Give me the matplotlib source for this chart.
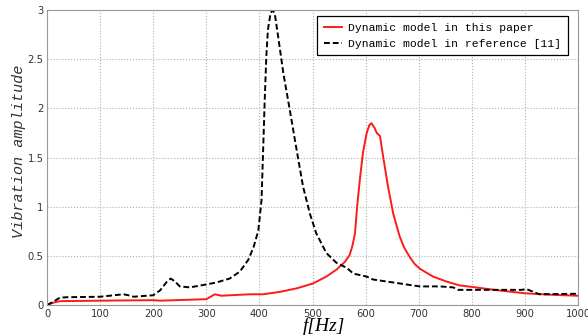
import matplotlib.pyplot as plt

# Frequency response of the proposed model
f_this = [0, 12, 24, 100, 200, 213, 300, 316, 328, 345, 383, 407, 439, 470,
          501, 526, 545, 561, 570, 575, 580, 584, 589, 595, 602, 607, 611,
          617, 621, 627, 633, 642, 652, 664, 673, 683, 692, 702, 727, 752,
          777, 800, 850, 900, 950, 1000]
amp_this = [0.0, 0.025, 0.04, 0.045, 0.05, 0.045, 0.06, 0.11, 0.095, 0.10,
            0.11, 0.11, 0.135, 0.17, 0.22, 0.29, 0.36, 0.44, 0.51, 0.60, 0.73,
            1.0, 1.27, 1.55, 1.75, 1.83, 1.85, 1.80, 1.75, 1.72, 1.51, 1.21,
            0.93, 0.70, 0.58, 0.49, 0.42, 0.37, 0.29, 0.24, 0.20, 0.185,
            0.15, 0.12, 0.105, 0.095]

# Frequency response of the model from reference [11]
f_ref = [0, 12, 24, 37, 100, 144, 153, 163, 200, 213, 226, 233, 241, 250,
         269, 300, 319, 344, 363, 379, 389, 398, 404, 407, 410, 413, 416,
         421, 425, 429, 435, 445, 457, 470, 482, 495, 507, 526, 545, 564,
         577, 602, 614, 652, 689, 702, 740, 765, 774, 850, 895, 902, 927,
         1000]
amp_ref = [0.0, 0.035, 0.075, 0.08, 0.085, 0.11, 0.10, 0.085, 0.10, 0.15,
           0.24, 0.27, 0.24, 0.19, 0.18, 0.21, 0.23, 0.27, 0.34, 0.46, 0.59,
           0.76, 1.07, 1.58, 2.09, 2.53, 2.80, 2.97, 3.0, 2.96, 2.74, 2.36,
           1.99, 1.58, 1.21, 0.93, 0.73, 0.53, 0.43, 0.38, 0.32, 0.29, 0.26,
           0.23, 0.20, 0.19, 0.19, 0.18, 0.155, 0.155, 0.155, 0.165, 0.11,
           0.115]

fig = plt.figure(figsize=(5.88, 3.36), dpi=100)
ax = fig.add_axes([0.080, 0.092, 0.903, 0.878])

ax.plot(f_this, amp_this, color='#ff1a1a', lw=1.4, label='Dynamic model in this paper')
ax.plot(f_ref, amp_ref, color='black', lw=1.4, ls=(0, (3, 1.5)),
        label='Dynamic model in reference [11]')

ax.set_xlim(0, 1000)
ax.set_ylim(0, 3)
ax.set_xticks(range(0, 1001, 100))
ax.set_yticks([0, 0.5, 1, 1.5, 2, 2.5, 3])
ax.set_yticklabels(['0', '0.5', '1', '1.5', '2', '2.5', '3'])
ax.grid(True, color='#b0b0b0', ls=':', lw=0.8)
ax.tick_params(length=0, labelsize=7.2, labelcolor='#333333', pad=2.5)
for s in ax.spines.values():
    s.set_color('#999999')
    s.set_linewidth(0.8)

fig.text(324 / 588, 1 - 326 / 336, 'f[Hz]', family='Liberation Serif',
         style='italic', fontsize=14, ha='center', va='center')
fig.text(19 / 588, 1 - 151 / 336, 'Vibration amplitude', family='Liberation Mono',
         style='italic', fontsize=11, rotation=90, ha='center', va='center',
         color='#333333')

leg = ax.legend(loc='upper right', prop={'family': 'Liberation Mono', 'size': 8.2},
                fancybox=False, framealpha=1, edgecolor='black',
                handlelength=1.6, handletextpad=0.5, borderpad=0.6,
                labelspacing=0.5, borderaxespad=0,
                bbox_to_anchor=(0.981, 0.98))
leg.get_frame().set_linewidth(0.9)

fig.savefig('out.png', dpi=100)
